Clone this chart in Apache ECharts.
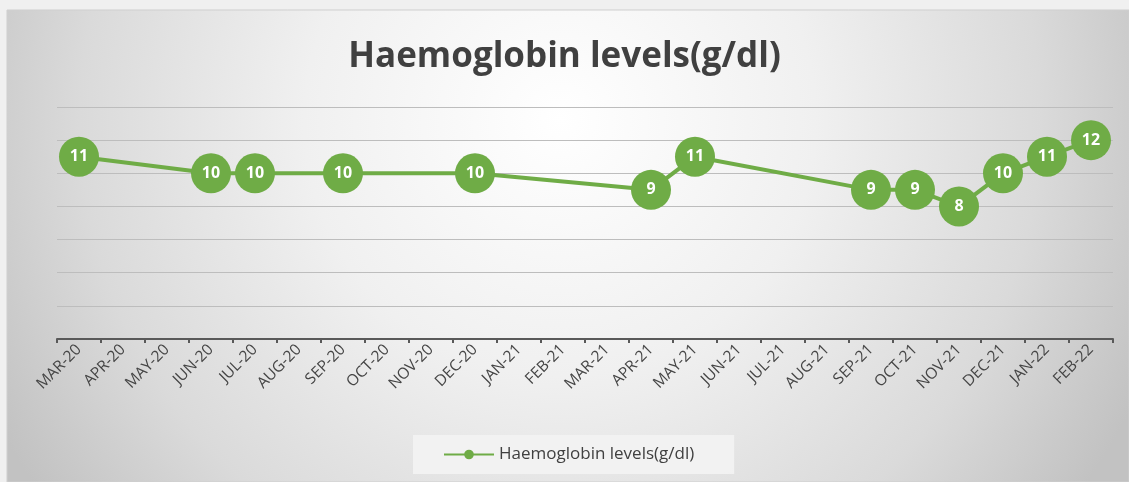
<!DOCTYPE html>
<html>
<head>
<meta charset="utf-8">
<script src="https://cdn.jsdelivr.net/npm/echarts@6/dist/echarts.min.js"></script>
<style>
  html, body { margin: 0; padding: 0; background: #f0f0f0; }
  #chart { width: 1129px; height: 482px; }
</style>
</head>
<body>
<div id="chart"></div>
<script>
const months = ['MAR-20', 'APR-20', 'MAY-20', 'JUN-20', 'JUL-20', 'AUG-20', 'SEP-20', 'OCT-20',
  'NOV-20', 'DEC-20', 'JAN-21', 'FEB-21', 'MAR-21', 'APR-21', 'MAY-21', 'JUN-21', 'JUL-21',
  'AUG-21', 'SEP-21', 'OCT-21', 'NOV-21', 'DEC-21', 'JAN-22', 'FEB-22']
// null = no reading that month
const haemoglobin = [11, null, null, 10, 10, null, 10, null, null, 10, null, null, null, 9, 11,
  null, null, null, 9, 9, 8, 10, 11, 12]
const seriesName = 'Haemoglobin levels(g/dl)'

const green = '#6fac46'
const chart = echarts.init(document.getElementById('chart'))
chart.setOption({
  animation: false,
  graphic: [{
    type: 'rect',
    z: -10,
    silent: true,
    shape: { x: 7, y: 10, width: 1122, height: 472 },
    style: {
      fill: {
        type: 'radial', x: 560, y: 120, r: 640, global: true,
        colorStops: [
          { offset: 0, color: '#ffffff' },
          { offset: 0.4, color: '#f0f0f0' },
          { offset: 0.75, color: '#dadada' },
          { offset: 1, color: '#c2c2c2' }
        ]
      },
      stroke: '#cfcfcf',
      lineWidth: 1
    }
  }],
  title: {
    text: 'Haemoglobin levels(g/dl)',
    left: 'center',
    top: 35,
    textStyle: { fontFamily: 'Open Sans', fontWeight: 'bold', fontSize: 35, color: '#404040' }
  },
  legend: {
    left: 413,
    top: 435,
    padding: [11, 40, 11, 30],
    backgroundColor: 'rgba(243,243,243,0.9)',
    itemWidth: 50,
    itemHeight: 12,
    itemGap: 4,
    textStyle: { fontFamily: 'Open Sans', fontSize: 17, color: '#404040' },
    data: [seriesName]
  },
  grid: { left: 57, right: 16, top: 107, bottom: 143 },
  xAxis: {
    type: 'category',
    data: months,
    boundaryGap: true,
    axisLine: { lineStyle: { color: '#595959', width: 2 } },
    axisTick: { show: true, length: 4, lineStyle: { color: '#595959', width: 2 } },
    axisLabel: {
      interval: 0,
      rotate: 45,
      margin: 8,
      fontFamily: 'Open Sans',
      fontSize: 15.5,
      color: '#454545'
    }
  },
  yAxis: {
    type: 'value',
    min: 0,
    max: 14,
    interval: 2,
    axisLabel: { show: false },
    axisLine: { show: false },
    axisTick: { show: false },
    splitLine: { lineStyle: { color: '#bdbdbd', width: 1 } }
  },
  series: [{
    name: seriesName,
    type: 'line',
    data: haemoglobin,
    connectNulls: true,
    symbol: 'circle',
    symbolSize: 40,
    itemStyle: { color: green },
    lineStyle: { color: green, width: 4 },
    label: {
      show: true,
      position: 'inside',
      color: '#ffffff',
      fontFamily: 'Open Sans',
      fontWeight: 'bold',
      fontSize: 16
    }
  }]
})
</script>
</body>
</html>
